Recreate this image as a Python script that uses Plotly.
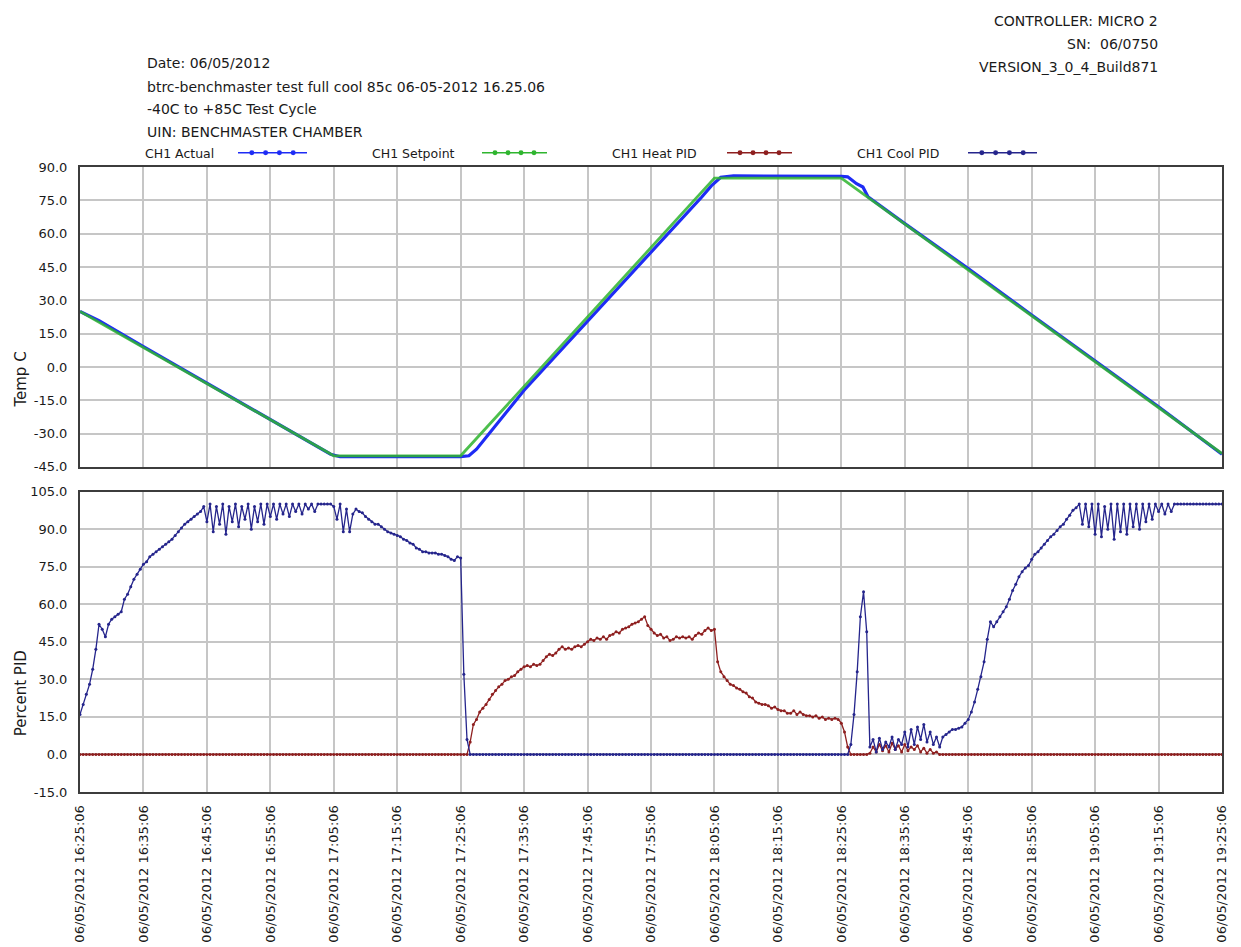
import plotly.graph_objects as go

# ---------------- data ----------------
tick_minutes = [0, 10, 20, 30, 40, 50, 60, 70, 80, 90, 100, 110, 120, 130, 140, 150, 160, 170, 180]
tick_labels = ["06/05/2012 16:25:06", "06/05/2012 16:35:06", "06/05/2012 16:45:06", "06/05/2012 16:55:06",
               "06/05/2012 17:05:06", "06/05/2012 17:15:06", "06/05/2012 17:25:06", "06/05/2012 17:35:06",
               "06/05/2012 17:45:06", "06/05/2012 17:55:06", "06/05/2012 18:05:06", "06/05/2012 18:15:06",
               "06/05/2012 18:25:06", "06/05/2012 18:35:06", "06/05/2012 18:45:06", "06/05/2012 18:55:06",
               "06/05/2012 19:05:06", "06/05/2012 19:15:06", "06/05/2012 19:25:06"]

temp_ticks = [-45, -30, -15, 0, 15, 30, 45, 60, 75, 90]
temp_tick_text = ["-45.0", "-30.0", "-15.0", "0.0", "15.0", "30.0", "45.0", "60.0", "75.0", "90.0"]
pid_ticks = [-15, 0, 15, 30, 45, 60, 75, 90, 105]
pid_tick_text = ["-15.0", "0.0", "15.0", "30.0", "45.0", "60.0", "75.0", "90.0", "105.0"]

# CH1 Setpoint (minutes from 16:25:06, degC)
setpoint_minutes = [0, 40, 60, 100, 120, 180]
setpoint_values = [25.0, -40.0, -40.0, 85.0, 85.0, -39.0]

# CH1 Actual
actual_minutes = [0, 3, 10, 20, 30, 38, 39.5, 41, 50, 60, 61.3, 62.5, 70, 80, 90, 98, 99.5, 101, 103,
                  110, 120, 121, 122.4, 123.4, 124.2, 130, 140, 150, 160, 170, 180]
actual_values = [25.0, 20.8, 9.2, -7.2, -23.5, -36.6, -39.3, -40.4, -40.4, -40.4, -40.0, -37.0, -10.5,
                 20.5, 51.5, 76.5, 81.5, 85.4, 86.0, 86.0, 85.8, 85.6, 82.5, 81.0, 76.6, 64.5, 44.3,
                 23.4, 2.8, -17.9, -39.3]

# PID logs, one sample every 30 s
pid_minutes = [i / 2 for i in range(361)]

cool_pid = [
    # 0 - 19.5
    16, 20, 24, 28, 34, 42, 52, 50, 47, 52, 54, 55, 56, 57, 62, 64, 67, 70, 72, 74,
    76, 77, 79, 80, 81, 82, 83, 84, 85, 86, 87.5, 89, 90.5, 92, 93, 94, 95, 96, 97, 99,
    # 20 - 39.5
    93, 100, 89, 99, 92, 100, 88, 99, 93, 100, 91, 99, 94, 100, 90, 99, 93, 100, 92, 100,
    95, 100, 94, 100, 96, 100, 95, 100, 97, 100, 96, 100, 98, 100, 97, 100, 100, 100, 100, 100,
    # 40 - 60
    99, 94, 100, 89, 98, 89, 96, 98, 97, 96.5, 95, 94, 93, 92, 92, 91, 90, 89, 88.5, 88,
    87.5, 87, 86, 85.5, 84.5, 84, 82.5, 82, 81, 81, 80.5, 80.5, 80.5, 80, 80, 79.5, 79, 78, 77.5, 79,
    78.5,
    # 60.5 - 61
    32, 6,
    # 61.5 - 121
    0, 0, 0, 0, 0, 0, 0, 0, 0, 0, 0, 0, 0, 0, 0, 0, 0, 0, 0, 0,
    0, 0, 0, 0, 0, 0, 0, 0, 0, 0, 0, 0, 0, 0, 0, 0, 0, 0, 0, 0,
    0, 0, 0, 0, 0, 0, 0, 0, 0, 0, 0, 0, 0, 0, 0, 0, 0, 0, 0, 0,
    0, 0, 0, 0, 0, 0, 0, 0, 0, 0, 0, 0, 0, 0, 0, 0, 0, 0, 0, 0,
    0, 0, 0, 0, 0, 0, 0, 0, 0, 0, 0, 0, 0, 0, 0, 0, 0, 0, 0, 0,
    0, 0, 0, 0, 0, 0, 0, 0, 0, 0, 0, 0, 0, 0, 0, 0, 0, 0, 0, 0,
    # 121.5 - 124.5
    4, 16, 33, 55, 65, 49, 3,
    # 125 - 139.5
    6, 1, 6.5, 2, 5, 3, 7, 2, 6, 4, 9, 3, 10, 4, 11, 6, 12, 5, 9, 4,
    7, 3, 7, 8, 9, 10, 10, 10.5, 11, 12.5,
    # 140 - 157.5
    14, 17, 21, 26, 31, 37, 46, 53, 51, 53, 55, 57, 59, 62, 65.5, 68, 71, 73, 74.5, 75.5,
    78, 80, 81, 82.5, 84, 85.5, 87, 88, 89.5, 91, 92, 94, 95.5, 97.5, 98.5, 100,
    # 158 - 172
    92, 100, 91, 100, 88, 100, 87, 99, 90, 100, 86, 100, 89, 100, 88, 100, 91, 100, 90, 100,
    93, 100, 94, 100, 97, 100, 96, 100, 97,
    # 172.5 - 180
    100, 100, 100, 100, 100, 100, 100, 100, 100, 100, 100, 100, 100, 100, 100, 100,
]

heat_pid = [
    # 0 - 61
    0, 0, 0, 0, 0, 0, 0, 0, 0, 0, 0, 0, 0, 0, 0, 0, 0, 0, 0, 0,
    0, 0, 0, 0, 0, 0, 0, 0, 0, 0, 0, 0, 0, 0, 0, 0, 0, 0, 0, 0,
    0, 0, 0, 0, 0, 0, 0, 0, 0, 0, 0, 0, 0, 0, 0, 0, 0, 0, 0, 0,
    0, 0, 0, 0, 0, 0, 0, 0, 0, 0, 0, 0, 0, 0, 0, 0, 0, 0, 0, 0,
    0, 0, 0, 0, 0, 0, 0, 0, 0, 0, 0, 0, 0, 0, 0, 0, 0, 0, 0, 0,
    0, 0, 0, 0, 0, 0, 0, 0, 0, 0, 0, 0, 0, 0, 0, 0, 0, 0, 0, 0,
    0, 0, 0,
    # 61.5 - 135.5
    5, 12, 14, 17, 18.5, 20, 22, 24, 25.5, 27,
    28, 29.5, 30, 31, 31.5, 33, 34, 35, 35.5, 35,
    36, 35.5, 36, 37.5, 39, 40, 39.5, 40.5, 42, 43,
    42, 42.5, 42, 43, 43.5, 43, 44, 45, 46, 45.5,
    46.5, 46, 47, 46, 47.5, 48, 49, 48.5, 50, 50.5,
    51, 52, 52.5, 53, 54, 55, 51.5, 50, 48.5, 47.5,
    48, 46.5, 47, 45.5, 46, 47, 46.5, 47, 46.5, 47,
    46, 47.5, 48.5, 48, 49.5, 50.5, 49.5, 50, 37, 33,
    31, 29.5, 28, 27.5, 26.5, 26, 25, 24.5, 23, 22.5,
    21, 20.5, 20, 20, 19.5, 18.5, 19, 18, 17.5, 17.5,
    16.5, 16.5, 17.5, 16, 17, 16, 15.5, 15.5, 15, 15.5,
    14.5, 15, 14, 14.5, 14, 14.5, 14, 12.5, 9, 3,
    0, 0, 0, 0, 0, 0, 0.5, 3, 1, 4,
    1.5, 3.5, 1, 4.5, 2, 3.5, 1, 4, 1.5, 3,
    2, 3.5, 1, 2.5, 0.5, 2, 0.5, 1, 0,
    # 136 - 180
    0, 0, 0, 0, 0, 0, 0, 0, 0, 0, 0, 0, 0, 0, 0, 0, 0, 0, 0, 0,
    0, 0, 0, 0, 0, 0, 0, 0, 0, 0, 0, 0, 0, 0, 0, 0, 0, 0, 0, 0,
    0, 0, 0, 0, 0, 0, 0, 0, 0, 0, 0, 0, 0, 0, 0, 0, 0, 0, 0, 0,
    0, 0, 0, 0, 0, 0, 0, 0, 0, 0, 0, 0, 0, 0, 0, 0, 0, 0, 0, 0,
    0, 0, 0, 0, 0, 0, 0, 0, 0,
]

assert len(cool_pid) == len(pid_minutes), len(cool_pid)
assert len(heat_pid) == len(pid_minutes), len(heat_pid)

header_left = ["Date: 06/05/2012",
               "btrc-benchmaster test full cool 85c 06-05-2012 16.25.06",
               "-40C to +85C Test Cycle",
               "UIN: BENCHMASTER CHAMBER"]
header_right = ["CONTROLLER: MICRO 2", "SN:  06/0750", "VERSION_3_0_4_Build871"]
legend_names = ["CH1 Actual", "CH1 Setpoint", "CH1 Heat PID", "CH1 Cool PID"]

# ---------------- styling ----------------
C_ACTUAL = "#1e2cf5"
C_SETPOINT = "#2fb52f"
C_HEAT = "#8e1f1f"
C_COOL = "#25258c"
GRID = "#c6c6c6"
FRAME = "#3c3c3c"
TXT = "#1a1a1a"
FONT = "DejaVu Sans"

# the page places the figure 8px in from the window corner; geometry below is in window pixels
OFF = 8
W, H = 1241, 947
PLOT_L, PLOT_R, PLOT_T, PLOT_B = 80, 1222, 166.5, 800
ML = PLOT_L - OFF
MT = PLOT_T - OFF
MR = W - (PLOT_R - OFF)
MB = H - (PLOT_B - OFF)
PW, PH = W - ML - MR, H - MT - MB


def px(xs):
    return (xs - OFF - ML) / PW


def py(ys):
    return (H - MB - (ys - OFF)) / PH


fig = go.Figure()

fig.add_trace(go.Scatter(x=actual_minutes, y=actual_values, name=legend_names[0], mode="lines",
                         line=dict(color=C_ACTUAL, width=3.2), xaxis="x2", yaxis="y2"))
fig.add_trace(go.Scatter(x=setpoint_minutes, y=setpoint_values, name=legend_names[1], mode="lines",
                         line=dict(color=C_SETPOINT, width=2.8), opacity=0.85, xaxis="x2", yaxis="y2"))
fig.add_trace(go.Scatter(x=pid_minutes, y=heat_pid, name=legend_names[2], mode="lines+markers",
                         line=dict(color=C_HEAT, width=1.3), marker=dict(color=C_HEAT, size=3),
                         xaxis="x", yaxis="y"))
fig.add_trace(go.Scatter(x=pid_minutes, y=cool_pid, name=legend_names[3], mode="lines+markers",
                         line=dict(color=C_COOL, width=1.3), marker=dict(color=C_COOL, size=3),
                         xaxis="x", yaxis="y"))

axis_common = dict(showgrid=True, gridcolor=GRID, gridwidth=1.5, showline=True, linecolor=FRAME,
                   linewidth=2, mirror=True, zeroline=False, ticks="",
                   tickfont=dict(family=FONT, size=13, color=TXT))

top_bottom_edge = 470.5
bottom_top_edge = 495.5

fig.update_layout(
    width=W, height=H,
    margin=dict(l=ML, r=MR, t=MT, b=MB),
    paper_bgcolor="white", plot_bgcolor="white",
    showlegend=False,
    font=dict(family=FONT, color=TXT),
    xaxis=dict(domain=[0, 1], range=[0, 180], tickvals=tick_minutes, ticktext=tick_labels,
               tickangle=-90, anchor="y", ticklabelstandoff=6, **axis_common),
    xaxis2=dict(domain=[0, 1], range=[0, 180], tickvals=tick_minutes, showticklabels=False,
                anchor="y2", matches="x", **axis_common),
    yaxis=dict(domain=[0, py(bottom_top_edge)], range=[-15, 105], tickvals=pid_ticks,
               ticktext=pid_tick_text, anchor="x", ticklabelstandoff=8, **axis_common),
    yaxis2=dict(domain=[py(top_bottom_edge), 1], range=[-45, 90], tickvals=temp_ticks,
                ticktext=temp_tick_text, anchor="x2", ticklabelstandoff=8, **axis_common),
)

annotations = []
# axis titles
annotations.append(dict(text="Temp C", x=px(21), y=py(382), xref="paper", yref="paper",
                        xanchor="center", yanchor="middle",
                        showarrow=False, textangle=-90, font=dict(size=15, family=FONT, color=TXT)))
annotations.append(dict(text="Percent PID", x=px(21), y=py(700), xref="paper", yref="paper",
                        xanchor="center", yanchor="middle",
                        showarrow=False, textangle=-90, font=dict(size=15, family=FONT, color=TXT)))
# left header
for line, yc in zip(header_left, [61.5, 85, 108, 131]):
    annotations.append(dict(text=line, x=px(145), y=py(yc), xref="paper", yref="paper",
                            xanchor="left", yanchor="middle", showarrow=False,
                            font=dict(size=14, family=FONT, color=TXT)))
# right header
for line, yc in zip(header_right, [18.5, 41.5, 65]):
    annotations.append(dict(text=line, x=px(1160), y=py(yc), xref="paper", yref="paper",
                            xanchor="right", yanchor="middle", showarrow=False,
                            font=dict(size=14, family=FONT, color=TXT)))

# custom legend: label then a line sample with four dots
legend_text_x = [143, 370, 610, 855]
legend_line_x = [(238, 307), (482, 547), (727, 792), (968, 1037)]
legend_colors = [C_ACTUAL, C_SETPOINT, C_HEAT, C_COOL]
legend_y = 153
shapes = []
for name, tx, (x0, x1), col in zip(legend_names, legend_text_x, legend_line_x, legend_colors):
    annotations.append(dict(text=name, x=px(tx), y=py(legend_y), xref="paper", yref="paper",
                            xanchor="left", yanchor="middle", showarrow=False,
                            font=dict(size=12.5, family=FONT, color=TXT)))
    shapes.append(dict(type="line", xref="paper", yref="paper", x0=px(x0), x1=px(x1),
                       y0=py(legend_y - 1), y1=py(legend_y - 1), line=dict(color=col, width=1.5)))
    step = (x1 - x0) / 5.0
    for k in range(1, 5):
        cx = x0 + step * k
        shapes.append(dict(type="circle", xref="paper", yref="paper",
                           x0=px(cx - 2.5), x1=px(cx + 2.5), y0=py(legend_y - 1 + 2.5),
                           y1=py(legend_y - 1 - 2.5), fillcolor=col, line=dict(color=col, width=0)))

fig.update_layout(annotations=annotations, shapes=shapes)

fig.write_html("out.html")
